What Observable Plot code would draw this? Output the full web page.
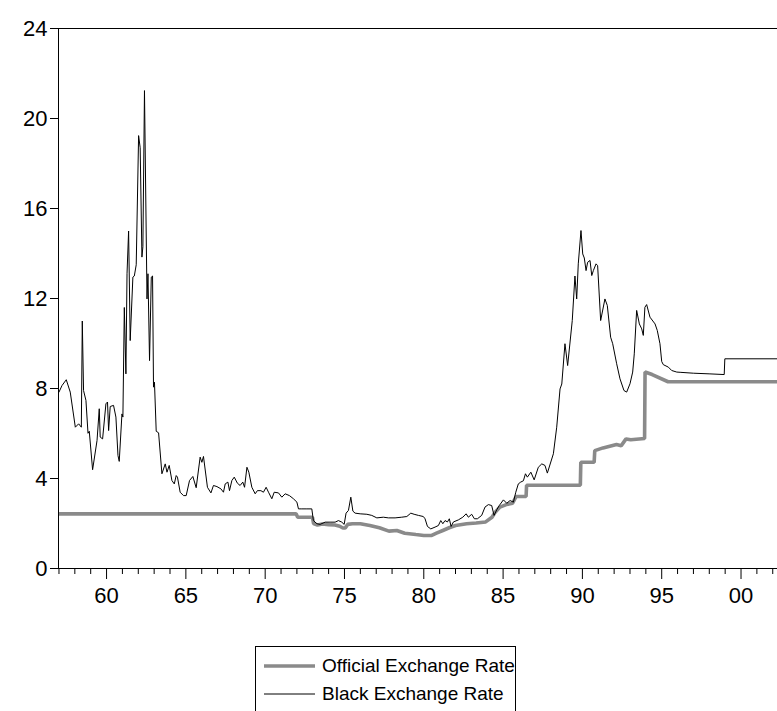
<!DOCTYPE html>
<html>
<head>
<meta charset="utf-8">
<script src="https://cdn.jsdelivr.net/npm/d3@7"></script>
<script src="https://cdn.jsdelivr.net/npm/@observablehq/plot@0.6"></script>
<style>
  html, body { margin: 0; padding: 0; background: #fff; }
  body { width: 777px; height: 711px; overflow: hidden; position: relative; font-family: "Liberation Sans", Arial, Helvetica, sans-serif; }
  #legend { position: absolute; left: 255px; top: 646px; width: 261px; height: 70px; border: 1px solid #000; box-sizing: border-box; background: #fff; }
  .row { position: absolute; left: 8px; height: 26px; display: flex; align-items: center; font-size: 19px; color: #000; white-space: nowrap; }
  .row svg { margin-right: 7px; }
</style>
</head>
<body>
<div id="chart"></div>
<div id="legend"></div>
<script>
// Series names
const seriesNames = ["Official Exchange Rate", "Black Exchange Rate"];

// Black exchange rate (decimal year, value)
const blackYears = [
  1957.00,1957.19,1957.46,1957.71,1958.03,1958.24,1958.41,1958.47,1958.55,1958.70,
  1958.83,1958.91,1959.12,1959.40,1959.54,1959.60,1959.75,1959.96,1960.06,1960.13,
  1960.23,1960.44,1960.59,1960.72,1960.80,1960.97,1961.03,1961.12,1961.22,1961.29,
  1961.39,1961.49,1961.66,1961.75,1961.87,1962.02,1962.12,1962.23,1962.29,1962.39,
  1962.55,1962.61,1962.71,1962.82,1962.90,1962.96,1963.02,1963.13,1963.28,1963.49,
  1963.70,1963.81,1963.95,1964.12,1964.27,1964.39,1964.47,1964.64,1964.85,1965.02,
  1965.23,1965.44,1965.65,1965.90,1966.01,1966.11,1966.36,1966.58,1966.74,1966.96,
  1967.21,1967.37,1967.48,1967.65,1967.75,1967.90,1968.05,1968.25,1968.42,1968.59,
  1968.70,1968.85,1968.97,1969.16,1969.37,1969.51,1969.73,1969.89,1970.06,1970.21,
  1970.42,1970.57,1970.84,1971.05,1971.26,1971.53,1971.78,1972.00,1972.10,1972.31,
  1972.63,1972.94,1973.04,1973.26,1973.46,1973.78,1974.09,1974.41,1974.62,1974.83,
  1974.98,1975.10,1975.25,1975.40,1975.53,1975.67,1975.99,1976.41,1976.72,1977.04,
  1977.45,1977.77,1978.19,1978.61,1978.93,1979.18,1979.39,1979.66,1979.97,1980.08,
  1980.23,1980.44,1980.71,1980.92,1981.07,1981.20,1981.34,1981.49,1981.61,1981.72,
  1981.87,1982.18,1982.46,1982.67,1982.81,1983.02,1983.19,1983.38,1983.65,1983.86,
  1984.07,1984.28,1984.43,1984.60,1984.76,1985.02,1985.23,1985.44,1985.65,1985.80,
  1985.96,1986.11,1986.28,1986.41,1986.53,1986.75,1986.96,1987.22,1987.44,1987.64,
  1987.79,1988.17,1988.38,1988.59,1988.70,1988.90,1989.07,1989.36,1989.53,1989.64,
  1989.74,1989.91,1990.02,1990.12,1990.23,1990.33,1990.48,1990.59,1990.69,1990.86,
  1990.96,1991.15,1991.42,1991.57,1991.78,1991.91,1992.16,1992.37,1992.62,1992.79,
  1993.00,1993.17,1993.27,1993.42,1993.59,1993.74,1993.84,1993.94,1994.05,1994.26,
  1994.58,1994.72,1994.89,1995.00,1995.10,1995.42,1995.63,1995.95,1996.16,1996.99,
  1998.04,1998.94,1998.98,2002.30
];
const blackValues = [
  7.84,8.13,8.39,7.84,6.28,6.43,6.28,11.00,7.91,7.47,
  6.01,6.10,4.39,5.69,7.10,5.84,5.76,7.32,7.40,6.13,
  7.20,7.25,6.73,5.02,4.76,6.87,6.73,11.60,8.65,13.10,
  15.00,10.13,12.95,13.00,13.50,19.24,18.70,13.84,14.30,21.24,
  11.98,13.10,9.24,12.95,13.00,8.06,8.28,6.10,6.03,4.21,
  4.65,4.28,4.58,3.91,3.76,4.13,4.06,3.39,3.24,3.24,
  3.91,4.09,3.59,4.95,4.72,4.98,3.61,3.36,3.69,3.64,
  3.54,3.39,3.76,3.84,3.46,3.91,4.06,3.79,3.69,3.84,
  3.61,4.50,4.28,3.61,3.32,3.46,3.46,3.39,3.61,3.39,
  3.10,3.39,3.36,3.17,3.32,3.24,3.10,2.95,2.65,2.65,
  2.65,2.65,2.13,1.99,1.96,2.06,2.06,2.06,2.13,2.06,
  1.96,2.46,2.58,3.17,2.55,2.46,2.43,2.41,2.36,2.25,
  2.28,2.25,2.25,2.28,2.31,2.46,2.41,2.36,2.31,2.21,
  1.87,1.76,1.84,1.91,2.13,1.99,2.13,2.07,2.21,1.87,
  2.07,2.16,2.28,2.43,2.28,2.41,2.21,2.21,2.36,2.73,
  2.84,2.80,2.36,2.61,2.80,3.05,2.90,3.02,2.95,3.39,
  3.76,3.84,3.90,4.21,4.06,4.28,3.94,4.50,4.65,4.58,
  4.24,5.10,6.28,7.98,8.20,9.99,9.02,11.02,13.00,11.98,
  13.54,15.02,13.98,13.80,13.24,13.61,13.69,13.02,13.24,13.54,
  13.46,11.02,11.98,11.69,10.28,9.99,9.10,8.43,7.91,7.84,
  8.21,8.73,9.54,11.47,10.87,10.65,10.36,11.61,11.73,11.17,
  10.87,10.58,9.99,9.20,9.06,8.95,8.80,8.73,8.72,8.68,
  8.65,8.62,9.32,9.32
];

// Official exchange rate (decimal year, value)
const officialYears = [
  1957.00,1971.95,1972.05,1972.98,1973.05,1973.30,1973.60,1974.00,1974.40,1974.70,
  1974.90,1975.05,1975.20,1975.50,1976.00,1976.60,1977.20,1977.80,1978.30,1978.80,
  1979.50,1980.00,1980.50,1980.80,1981.20,1981.60,1982.00,1982.70,1983.30,1983.90,
  1984.30,1984.50,1984.80,1985.20,1985.60,1985.82,1986.45,1986.48,1989.87,1989.90,
  1990.74,1990.78,1991.30,1992.15,1992.45,1992.75,1993.05,1993.92,1993.95,1994.40,
  1995.40,2002.30
];
const officialValues = [
  2.43,2.43,2.28,2.28,2.00,1.93,1.98,1.95,1.93,1.88,
  1.80,1.80,1.96,1.99,1.99,1.91,1.81,1.66,1.69,1.57,
  1.51,1.47,1.47,1.57,1.69,1.81,1.91,1.99,2.02,2.07,
  2.28,2.50,2.73,2.84,2.90,3.20,3.20,3.70,3.70,4.72,
  4.72,5.24,5.36,5.51,5.46,5.76,5.72,5.78,8.73,8.62,
  8.30,8.30
];

// Axis ticks
const yTicks = [0, 4, 8, 12, 16, 20, 24];
const xMajorTicks = [1960, 1965, 1970, 1975, 1980, 1985, 1990, 1995, 2000];
const xMinorTicks = d3.range(1957, 2003).filter(d => d % 5 !== 0);

const black = blackYears.map((x, i) => ({x, v: blackValues[i]}));
const official = officialYears.map((x, i) => ({x, v: officialValues[i]}));

const officialColor = "#8a8a8a";
const fontFamily = '"Liberation Sans", Arial, Helvetica, sans-serif';

const chart = Plot.plot({
  width: 777,
  height: 640,
  marginLeft: 58,
  marginRight: 0,
  marginTop: 28,
  marginBottom: 72,
  style: {fontFamily, fontSize: "22px", color: "#000", background: "#fff", overflow: "visible"},
  x: {domain: [1956.97, 2002.3], label: null},
  y: {domain: [0, 24], label: null},
  marks: [
    Plot.ruleY([0, 24], {stroke: "#000", strokeWidth: 1}),
    Plot.ruleX([1956.97], {stroke: "#000", strokeWidth: 1}),
    Plot.axisY(yTicks, {tickSize: 8, tickPadding: 3, fontSize: 22, label: null, tickFormat: d => String(d)}),
    Plot.axisX(xMinorTicks, {tickSize: 6, tickFormat: () => "", label: null}),
    Plot.axisX(xMajorTicks, {tickSize: 11, tickPadding: 8, fontSize: 22, label: null,
      tickFormat: d => String(d % 100).padStart(2, "0")}),
    Plot.line(official, {x: "x", y: "v", stroke: officialColor, strokeWidth: 3.6, strokeLinejoin: "miter", strokeLinecap: "butt"}),
    Plot.line(black, {x: "x", y: "v", stroke: "#000", strokeWidth: 1})
  ]
});
document.getElementById("chart").appendChild(chart);

// Legend
const legend = document.getElementById("legend");
const swatches = [
  {name: seriesNames[0], color: officialColor, width: 3.6, top: 6},
  {name: seriesNames[1], color: "#000", width: 1, top: 34}
];
for (const s of swatches) {
  const row = document.createElement("div");
  row.className = "row";
  row.style.top = s.top + "px";
  row.innerHTML = `<svg width="51" height="10"><line x1="0" x2="51" y1="5" y2="5" stroke="${s.color}" stroke-width="${s.width}"/></svg><span>${s.name}</span>`;
  legend.appendChild(row);
}
</script>
</body>
</html>
